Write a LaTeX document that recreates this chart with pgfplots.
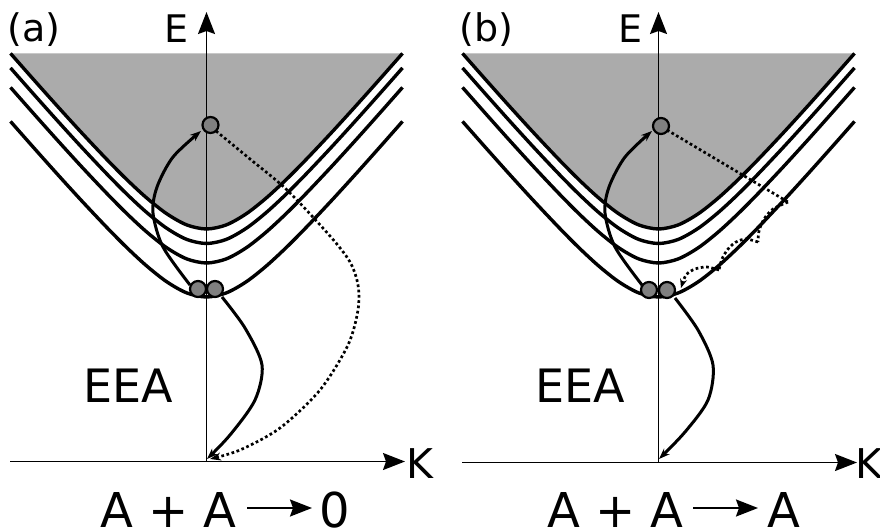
\documentclass[border=0pt]{standalone}
\usepackage{fontspec}
\setmainfont{DejaVu Sans}
\usepackage{pgfplots}
\usepackage{pgfplotstable}
\pgfplotsset{compat=1.18}
\usetikzlibrary{arrows.meta}
\definecolor{bandgray}{HTML}{ABABAB}
\definecolor{partgray}{HTML}{808080}
\newcommand\fs[1]{\fontsize{#1}{#1}\selectfont}

% band curves, x relative to the E axis, y in picture pixels (down)
\pgfplotstableread{
dx   c1    c2    c3    c4
-196 53.4  67.9  87.4  121.4
-175 77.2  91.7  111.2 145.2
-150 105.2 119.7 139.2 173.2
-125 132.6 147.1 166.6 200.6
-100 159.1 173.6 193.1 227.1
-80  179.3 193.8 213.3 247.3
-60  197.8 212.3 231.8 265.8
-40  213.6 228.1 247.6 281.6
-20  224.8 239.3 258.8 292.8
0    229   243.5 263   297
20   224.8 239.3 258.8 292.8
40   213.6 228.1 247.6 281.6
60   197.8 212.3 231.8 265.8
80   179.3 193.8 213.3 247.3
100  159.1 173.6 193.1 227.1
125  132.6 147.1 166.6 200.6
150  105.2 119.7 139.2 173.2
175  77.2  91.7  111.2 145.2
196  53.4  67.9  87.4  121.4
}\bands

\pgfplotsset{
  band/.style={black, line width=3.4pt, smooth},
  axisarrow/.style={black, line width=1.6pt, -{Stealth[length=22pt,width=17pt,inset=3pt]}},
  hop/.style={black, line width=3pt, smooth, -{Stealth[length=11pt,width=8pt]}},
  dots/.style={black, line width=2.7pt, smooth, dash pattern=on 2.7pt off 2.6pt},
  particle/.style={only marks, mark=*, mark size=8pt,
    mark options={fill=partgray, draw=black, line width=2.2pt}},
}

\begin{document}
\begin{tikzpicture}
\begin{axis}[
  width=880pt, height=530pt, scale only axis,
  xmin=0, xmax=880, ymin=0, ymax=530, y dir=reverse,
  hide axis, clip=false,
]
% ---- panel (a)
\addplot[fill=bandgray, draw=none, smooth] table[x expr=\thisrow{dx}+206.5, y=c1] {\bands};
\addplot[band] table[x expr=\thisrow{dx}+206.5, y=c1] {\bands};
\addplot[band] table[x expr=\thisrow{dx}+206.5, y=c2] {\bands};
\addplot[band] table[x expr=\thisrow{dx}+206.5, y=c3] {\bands};
\addplot[band] table[x expr=\thisrow{dx}+206.5, y=c4] {\bands};
\addplot[axisarrow] coordinates {(206.5,461.5) (206.5,12)};
\addplot[axisarrow] coordinates {(10,461.5) (405,461.5)};
\addplot[hop] coordinates {(190,285) (163,247) (153,213) (157,187) (173,157) (201,131)};
\addplot[hop] coordinates {(222,297) (245,328) (262,365) (255,400) (230,435) (207,459)};
\addplot[dots, -{Stealth[length=11pt,width=8pt]}] coordinates {(216,131) (250,159) (287,190)
  (330,236) (350,262) (358,285) (358,310) (348,345) (320,390) (280,428) (240,450) (210,459)};
\addplot[particle] coordinates {(210.5,125) (198,289) (215,289)};
\node[anchor=base west, inner sep=0] at (axis cs:7,41.5) {\fs{38}(a)};
\node[anchor=base west, inner sep=0] at (axis cs:164,42) {\fs{38}E};
\node[anchor=base west, inner sep=0] at (axis cs:406,478) {\fs{41}K};
\node[anchor=base west, inner sep=0] at (axis cs:83.5,402) {\fs{46}EEA};
\node[anchor=base west, inner sep=0] at (axis cs:100,527) {\fs{48}A + A};
\node[anchor=base west, inner sep=0] at (axis cs:319,527) {\fs{48}0};
\addplot[axisarrow, line width=2pt] coordinates {(247,508) (312,508)};

% ---- panel (b)
\addplot[fill=bandgray, draw=none, smooth] table[x expr=\thisrow{dx}+658.5, y=c1] {\bands};
\addplot[band] table[x expr=\thisrow{dx}+658.5, y=c1] {\bands};
\addplot[band] table[x expr=\thisrow{dx}+658.5, y=c2] {\bands};
\addplot[band] table[x expr=\thisrow{dx}+658.5, y=c3] {\bands};
\addplot[band] table[x expr=\thisrow{dx}+658.5, y=c4] {\bands};
\addplot[axisarrow] coordinates {(658.5,462.5) (658.5,12)};
\addplot[axisarrow] coordinates {(462,462.5) (857,462.5)};
\addplot[hop] coordinates {(642,285) (615,247) (605,213) (609,187) (625,157) (652,131)};
\addplot[hop] coordinates {(675,298) (698,330) (713,365) (708,400) (685,432) (659,459)};
\addplot[dots] coordinates {(667,130) (788,202)};
\addplot[dots] coordinates {(788,202) (773,209) (764,219) (759,231) (758,242)};
\addplot[dots] coordinates {(758,242) (746,239) (736,242) (728,249) (722,259) (719,270)};
\addplot[dots, -{Stealth[length=9pt,width=7pt]}] coordinates {(719,270) (707,267) (695,269) (686,275) (681,288)};
\addplot[particle] coordinates {(661,126) (649,290) (667,290)};
\node[anchor=base west, inner sep=0] at (axis cs:459,41.5) {\fs{38}(b)};
\node[anchor=base west, inner sep=0] at (axis cs:618,42) {\fs{38}E};
\node[anchor=base west, inner sep=0] at (axis cs:855,478) {\fs{41}K};
\node[anchor=base west, inner sep=0] at (axis cs:535.5,402) {\fs{46}EEA};
\node[anchor=base west, inner sep=0] at (axis cs:547,527) {\fs{48}A + A};
\node[anchor=base west, inner sep=0] at (axis cs:767,527) {\fs{48}A};
\addplot[axisarrow, line width=2pt] coordinates {(693,508) (758,508)};
\end{axis}
\pgfresetboundingbox
\useasboundingbox (current axis.south west) rectangle (current axis.north east);
\end{tikzpicture}
\end{document}
